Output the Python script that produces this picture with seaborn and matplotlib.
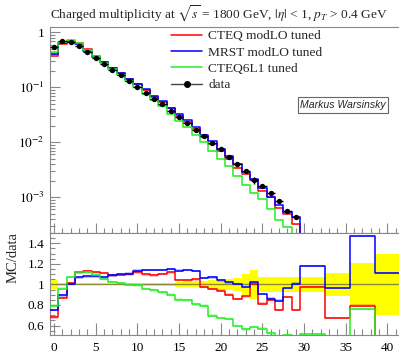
import numpy as np
import pandas as pd
import seaborn as sns
import matplotlib
matplotlib.use("Agg")
import matplotlib.pyplot as plt
from matplotlib.ticker import MultipleLocator, FuncFormatter, LogLocator, NullFormatter
from matplotlib.lines import Line2D

# ---------------- data ----------------
bin_edges = [-0.5, 0.5, 1.5, 2.5, 3.5, 4.5, 5.5, 6.5, 7.5, 8.5, 9.5,
             10.5, 11.5, 12.5, 13.5, 14.5, 15.5, 16.5, 17.5, 18.5, 19.5,
             20.5, 21.5, 22.5, 23.5, 24.5, 25.5, 26.5, 27.5, 28.5, 29.5,
             32.5, 35.5, 38.5, 41.5]

data_vals = [0.548, 0.705, 0.675, 0.563, 0.433, 0.337, 0.265, 0.207, 0.164, 0.129,
             0.1026, 0.0804, 0.0621, 0.0491, 0.0371, 0.0285, 0.0222, 0.0168, 0.0130, 0.00984,
             0.00740, 0.00547, 0.00403, 0.00301, 0.00207, 0.00163, 0.00118, 0.000857, 0.000571, 0.000432,
             0.00015, 0.00005, 0.000018, 0.000006]

data_relerr = [0.045, 0.012, 0.010, 0.010, 0.010, 0.010, 0.010, 0.010, 0.010, 0.010,
               0.010, 0.012, 0.014, 0.016, 0.018, 0.022, 0.026, 0.030, 0.038, 0.045,
               0.050, 0.055, 0.065, 0.100, 0.140, 0.070, 0.070, 0.075, 0.070, 0.075,
               0.075, 0.115, 0.210, 0.300]

ratio_cteq_modlo = [0.68, 0.868, 1.01, 1.116, 1.126, 1.116, 1.11, 1.087, 1.09, 1.097,
                    1.116, 1.097, 1.088, 1.10, 1.116, 1.045, 1.04, 1.05, 0.975, 0.955,
                    0.939, 0.90, 0.859, 0.884, 1.004, 0.813, 0.852, 0.749, 0.878, 0.749,
                    0.975, 0.675, 0.794, 0.0]

ratio_mrst_modlo = [0.749, 0.894, 1.004, 1.068, 1.077, 1.077, 1.068, 1.087, 1.097, 1.106,
                    1.135, 1.138, 1.142, 1.142, 1.148, 1.135, 1.14, 1.128, 1.062, 1.068,
                    1.039, 1.02, 1.004, 0.975, 1.02, 0.907, 0.862, 0.842, 0.965, 1.007,
                    1.181, 0.965, 1.47, 1.11]

ratio_cteq6l1 = [0.794, 0.958, 1.071, 1.116, 1.116, 1.094, 1.052, 1.023, 1.013, 0.997,
                 0.99, 0.955, 0.942, 0.923, 0.90, 0.852, 0.845, 0.805, 0.794, 0.697,
                 0.675, 0.665, 0.594, 0.562, 0.584, 0.571, 0.523, 0.45, 0.51, 0.45,
                 0.52, 0.40, 0.76, 0.40]

series_labels = ["CTEQ modLO tuned", "MRST modLO tuned", "CTEQ6L1 tuned"]
series_colors = ["#ff0000", "#0000ff", "#22ee22"]
title_text = r"Charged multiplicity at $\sqrt{s}$ = 1800 GeV, $|\eta|$ < 1, $p_T$ > 0.4 GeV"
author_text = "Markus Warsinsky"

# ---------------- setup ----------------
sns.set_theme(style="ticks")
plt.rcParams["font.family"] = ["Liberation Serif", "DejaVu Serif"]
plt.rcParams["mathtext.fontset"] = "stix"

edges = np.array(bin_edges)
centers = 0.5 * (edges[:-1] + edges[1:])
halfw = 0.5 * (edges[1:] - edges[:-1])
data = np.array(data_vals)
relerr = np.array(data_relerr)
ratios = [np.array(ratio_cteq_modlo), np.array(ratio_mrst_modlo), np.array(ratio_cteq6l1)]

W, H = 399, 360
fig = plt.figure(figsize=(W / 100, H / 100), dpi=100)
ax = fig.add_axes([50 / W, 1 - 233 / H, 1 - 50 / W, (233 - 27) / H])
axr = fig.add_axes([50 / W, 1 - 335 / H, 1 - 50 / W, (335 - 233) / H])

gray = "#888888"
XMIN, XMAX = -0.5, 41.4


def steps(vals):
    return pd.DataFrame({"x": edges, "y": np.append(vals, vals[-1])})


# ---------------- main panel ----------------
for r, lab, col in zip(ratios, series_labels, series_colors):
    mc = data * r
    ax.fill_between(edges, np.append(mc, mc[-1]) * 0.985, np.append(mc, mc[-1]) * 1.015,
                    step="post", color=col, alpha=0.25, lw=0)
    sns.lineplot(data=steps(mc), x="x", y="y", ax=ax, color=col, lw=1.1,
                 drawstyle="steps-post", estimator=None, sort=False, legend=False)

ax.errorbar(centers, data, xerr=halfw, yerr=data * relerr, fmt="none",
            ecolor="black", elinewidth=1.0, capsize=0, zorder=5)
sns.scatterplot(x=centers, y=data, ax=ax, color="black", s=15, edgecolor="black",
                linewidth=0, zorder=6, legend=False)

ax.set_yscale("log")
ax.set_xlim(XMIN, XMAX)
ax.set_ylim(2.24e-4, 1.25)
ax.set_xlabel("")
ax.set_ylabel("")
ax.yaxis.set_major_locator(LogLocator(base=10, numticks=10))
ax.yaxis.set_minor_locator(LogLocator(base=10, subs=np.arange(2, 10), numticks=20))
ax.yaxis.set_minor_formatter(NullFormatter())
ax.yaxis.set_major_formatter(FuncFormatter(
    lambda v, p: "1" if abs(v - 1) < 1e-9 else r"$10^{%d}$" % round(np.log10(v))))
ax.xaxis.set_major_locator(MultipleLocator(5))
ax.xaxis.set_minor_locator(MultipleLocator(1))
ax.tick_params(axis="x", which="both", labelbottom=False, direction="in", colors=gray)
ax.tick_params(axis="x", which="major", length=7.5, width=0.8)
ax.tick_params(axis="x", which="minor", length=3.8, width=0.8)
ax.tick_params(axis="y", which="major", length=7, width=0.8, direction="in",
               colors=gray, labelcolor="black", labelsize=9.5, pad=4)
ax.tick_params(axis="y", which="minor", length=3.5, width=0.8, direction="in", colors=gray)
for s in ["left", "top", "bottom"]:
    ax.spines[s].set_color(gray)
    ax.spines[s].set_linewidth(0.8)
ax.spines["right"].set_visible(False)

fig.text(50 / W, 1 - 14 / H, title_text, ha="left", va="center", fontsize=9.6)

handles = [Line2D([], [], color=c, lw=1.1) for c in series_colors]
handles.append(Line2D([], [], color="#444444", lw=1.0, marker="o", ms=4.0,
                      markerfacecolor="black", markeredgecolor="black"))
leg = ax.legend(handles, series_labels + ["data"], loc="upper left",
                bbox_to_anchor=(171 / W, 1 - 30 / H), bbox_transform=fig.transFigure,
                frameon=False, fontsize=9.6, handlelength=2.35, handletextpad=0.45,
                labelspacing=0.3, borderpad=0, borderaxespad=0)

fig.text(343 / W, 1 - 105 / H, author_text, ha="center", va="center", fontsize=7.6,
         family=["Liberation Sans", "DejaVu Sans"], style="italic",
         bbox=dict(boxstyle="square,pad=0.25", fc="white", ec="#666666", lw=0.8))

# ---------------- ratio panel ----------------
lo = np.append(1 - relerr, 1 - relerr[-1])
hi = np.append(1 + relerr, 1 + relerr[-1])
axr.fill_between(edges, lo, hi, step="post", color="#ffff00", lw=0, zorder=1)
axr.axhline(1.0, color="#8a8a3a", lw=1.0, zorder=2)

for r, col in zip(ratios, series_colors):
    rr = np.append(r, r[-1])
    axr.fill_between(edges, rr - 0.012, rr + 0.012, step="post", color=col, alpha=0.25,
                     lw=0, zorder=3)
    sns.lineplot(data=steps(r), x="x", y="y", ax=axr, color=col, lw=1.1,
                 drawstyle="steps-post", estimator=None, sort=False, legend=False, zorder=4)

axr.set_xlim(XMIN, XMAX)
axr.set_ylim(0.508, 1.5)
axr.set_xlabel("")
axr.set_ylabel("MC/data", fontsize=10.5)
axr.yaxis.set_label_coords(-37 / (W - 50), 0.755)
axr.yaxis.label.set_va("center")
axr.yaxis.set_major_locator(MultipleLocator(0.2))
axr.yaxis.set_minor_locator(MultipleLocator(0.05))
axr.yaxis.set_major_formatter(FuncFormatter(lambda v, p: "%g" % round(v, 2)))
axr.xaxis.set_major_locator(MultipleLocator(5))
axr.xaxis.set_minor_locator(MultipleLocator(1))
axr.tick_params(axis="x", which="major", length=8.5, width=0.8, direction="in",
                colors=gray, labelcolor="black", labelsize=9.5, pad=5)
axr.tick_params(axis="x", which="minor", length=4.3, width=0.8, direction="in", colors=gray)
axr.tick_params(axis="y", which="major", length=7, width=0.8, direction="in",
                colors=gray, labelcolor="black", labelsize=9.5, pad=4)
axr.tick_params(axis="y", which="minor", length=3.5, width=0.8, direction="in", colors=gray)
for s in ["left", "top", "bottom"]:
    axr.spines[s].set_color(gray)
    axr.spines[s].set_linewidth(0.8)
axr.spines["right"].set_visible(False)

fig.savefig("out.png", dpi=100)
